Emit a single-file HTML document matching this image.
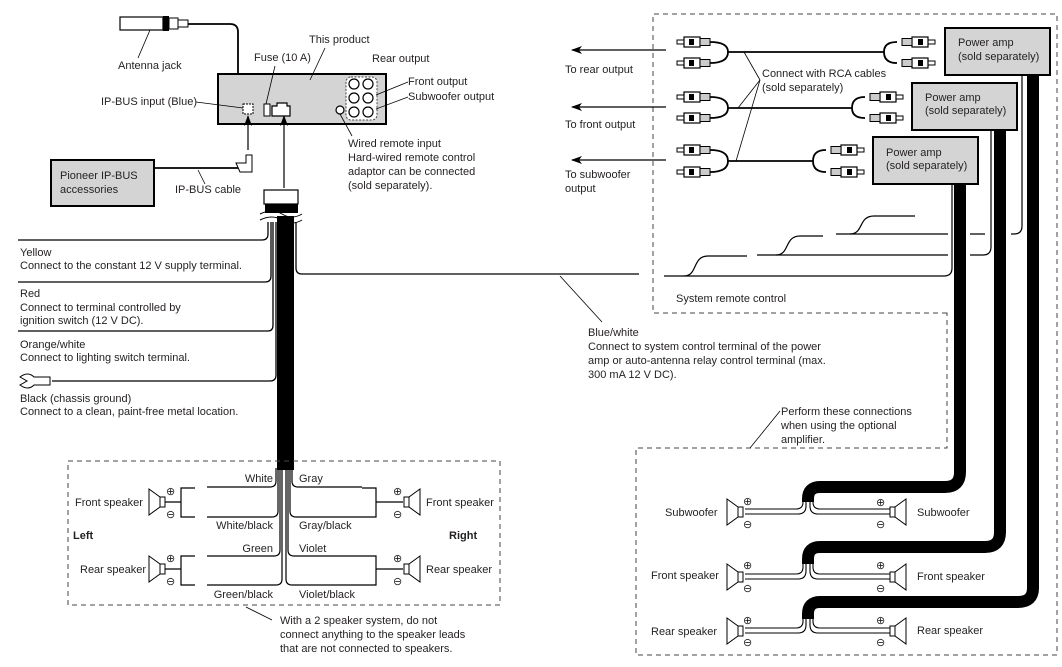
<!DOCTYPE html>
<html><head><meta charset="utf-8"><style>
html,body{margin:0;padding:0;background:#fff;}
svg{display:block;}
text{font-family:"Liberation Sans",sans-serif;font-size:11px;fill:#231f20;}
.b{font-weight:bold;}
</style></head><body>
<svg width="1062" height="667" viewBox="0 0 1062 667" xmlns="http://www.w3.org/2000/svg">
<defs>
<g id="plug">
 <rect x="0" y="-2" width="7" height="4" fill="#fff" stroke="#000" stroke-width="1"/>
 <rect x="7" y="-5" width="16" height="10" fill="#fff" stroke="#000" stroke-width="1.2"/>
 <rect x="12" y="-3" width="5" height="6" fill="#000"/>
 <rect x="23" y="-3.5" width="10" height="7" fill="#ccc" stroke="#000" stroke-width="1"/>
</g>
<g id="spk">
 <polygon points="0,0 11,8 11,18 0,26" fill="#fff" stroke="#000" stroke-width="1"/>
 <rect x="11" y="8" width="5" height="10" fill="#fff" stroke="#000" stroke-width="1"/>
</g>
<marker id="ah" markerWidth="12" markerHeight="10" refX="10" refY="4" orient="auto" markerUnits="userSpaceOnUse">
 <path d="M0,0 L11,4 L0,8 L3,4 Z" fill="#000"/>
</marker>
</defs>

<!-- Antenna -->
<rect x="120" y="17" width="43" height="13" fill="#fff" stroke="#000" stroke-width="1.2"/>
<rect x="163" y="16" width="6" height="15" fill="#000"/>
<rect x="169" y="18" width="9" height="11" fill="#fff" stroke="#000"/>
<rect x="178" y="20" width="10" height="7" fill="#fff" stroke="#000"/>
<path d="M188,24 H230 Q238,24 238,32 V76" fill="none" stroke="#000" stroke-width="1.8"/>
<line x1="150" y1="30" x2="138" y2="58" stroke="#000" stroke-width="0.8"/>
<text x="118" y="69">Antenna jack</text>

<!-- head unit -->
<rect x="218" y="74" width="168" height="50" fill="#d4d4d4" stroke="#000" stroke-width="2"/>
<rect x="243" y="104" width="10" height="10" fill="#fff" stroke="#000" stroke-dasharray="2,1"/>
<rect x="264" y="104" width="6" height="12" fill="#fff" stroke="#000"/>
<path d="M272,106 H277 V103 H287 V106 H290 V116 H272 Z" fill="#fff" stroke="#000" stroke-width="1.2"/>
<rect x="346" y="77" width="31" height="43" rx="5" fill="#fff" stroke="#444" stroke-dasharray="2,1.5"/>
<g fill="#fff" stroke="#000" stroke-width="1.2">
<circle cx="354" cy="84" r="5"/><circle cx="368" cy="84" r="5"/>
<circle cx="354" cy="98" r="5"/><circle cx="368" cy="98" r="5"/>
<circle cx="354" cy="112" r="5"/><circle cx="368" cy="112" r="5"/>
<circle cx="340" cy="110" r="4"/>
</g>
<text x="309" y="43">This product</text>
<line x1="325" y1="48" x2="310" y2="80" stroke="#000" stroke-width="0.8"/>
<text x="254" y="61">Fuse (10 A)</text>
<line x1="275" y1="66" x2="266" y2="104" stroke="#000" stroke-width="0.8"/>
<text x="372" y="62">Rear output</text>
<text x="408" y="85">Front output</text>
<line x1="408" y1="82" x2="376" y2="95" stroke="#000" stroke-width="0.8"/>
<text x="408" y="100">Subwoofer output</text>
<line x1="408" y1="97" x2="376" y2="109" stroke="#000" stroke-width="0.8"/>
<text x="101" y="105">IP-BUS input (Blue)</text>
<line x1="196" y1="102" x2="243" y2="108" stroke="#000" stroke-width="0.8"/>
<line x1="340" y1="114" x2="352" y2="136" stroke="#000" stroke-width="0.8"/>
<text x="348" y="147">Wired remote input</text>
<text x="348" y="161">Hard-wired remote control</text>
<text x="348" y="175">adaptor can be connected</text>
<text x="348" y="189">(sold separately).</text>

<!-- IP-BUS -->
<line x1="248" y1="150" x2="248" y2="116" stroke="#000" stroke-width="1.2" marker-end="url(#ah)"/>
<rect x="51" y="160" width="103" height="46" fill="#d4d4d4" stroke="#000" stroke-width="2"/>
<text x="60" y="179">Pioneer IP-BUS</text>
<text x="60" y="193">accessories</text>
<line x1="154" y1="168" x2="238" y2="168" stroke="#000" stroke-width="1.8"/>
<path d="M236,163 H246 V155 H252 V172 H240 Z" fill="#fff" stroke="#000"/>
<line x1="198" y1="170" x2="205" y2="184" stroke="#000" stroke-width="0.8"/>
<text x="175" y="193">IP-BUS cable</text>

<!-- harness -->
<line x1="284" y1="188" x2="284" y2="116" stroke="#000" stroke-width="1.2" marker-end="url(#ah)"/>
<rect x="264" y="190" width="34" height="14" fill="#fff" stroke="#000" stroke-width="1.2"/>
<rect x="265" y="204" width="33" height="9" fill="#000"/>
<rect x="277" y="216" width="17" height="254" fill="#000"/>
<path d="M260,214 Q272,208 282,214 T302,214" fill="none" stroke="#000" stroke-width="1"/>
<path d="M260,220 Q272,214 282,220 T302,220" fill="none" stroke="#000" stroke-width="1"/>
<g fill="none" stroke="#000" stroke-width="1.3">
<path d="M18,240 H262 Q268,240 268,234 V222"/>
<path d="M18,282 H265 Q271,282 271,276 V222"/>
<path d="M18,331 H268 Q273,331 273,325 V222"/>
<path d="M52,381 H270 Q276,381 276,375 V222"/>
<path d="M296,222 V268 Q296,274 302,274 H639"/>
</g>
<path d="M20,377 Q28,371 34,377 H50 V385 H34 Q28,391 20,385 L27,381 Z" fill="#fff" stroke="#000"/>
<text x="20" y="256">Yellow</text>
<text x="20" y="269">Connect to the constant 12 V supply terminal.</text>
<text x="20" y="297">Red</text>
<text x="20" y="311">Connect to terminal controlled by</text>
<text x="20" y="324">ignition switch (12 V DC).</text>
<text x="20" y="348">Orange/white</text>
<text x="20" y="361">Connect to lighting switch terminal.</text>
<text x="20" y="402">Black (chassis ground)</text>
<text x="20" y="415">Connect to a clean, paint-free metal location.</text>

<!-- Bottom left speaker box -->
<rect x="68" y="461" width="432" height="144" fill="none" stroke="#444" stroke-dasharray="5,4"/>
<g fill="none" stroke="#000" stroke-width="1.2">
<path d="M207,487 H270 Q276,487 276,481 V468"/>
<path d="M207,517 H272 Q278,517 278,511 V468"/>
<path d="M207,556 H274 Q280,556 280,550 V468"/>
<path d="M207,585 H276 Q282,585 282,579 V468"/>
<path d="M362,487 H298 Q292,487 292,481 V468"/>
<path d="M362,517 H296 Q290,517 290,511 V468"/>
<path d="M362,556 H294 Q288,556 288,550 V468"/>
<path d="M362,585 H292 Q286,585 286,579 V468"/>
<path d="M165,502 H181 M195,488 H181 V517 H195"/>
<path d="M165,569 H181 M195,556 H181 V585 H195"/>
<path d="M403,502 H376 M362,488 H376 V517 H362"/>
<path d="M403,569 H376 M362,556 H376 V585 H362"/>
</g>
<use href="#spk" x="149" y="489"/>
<use href="#spk" x="149" y="556"/>
<use href="#spk" transform="translate(420,489) scale(-1,1)"/>
<use href="#spk" transform="translate(420,556) scale(-1,1)"/>
<g font-size="10">
<text x="166" y="495">⊕</text><text x="166" y="518">⊖</text>
<text x="166" y="562">⊕</text><text x="166" y="585">⊖</text>
<text x="393" y="495">⊕</text><text x="393" y="518">⊖</text>
<text x="393" y="562">⊕</text><text x="393" y="585">⊖</text>
</g>
<text x="75" y="506">Front speaker</text>
<text x="80" y="573">Rear speaker</text>
<text x="73" y="539" class="b">Left</text>
<text x="449" y="539" class="b">Right</text>
<text x="426" y="506">Front speaker</text>
<text x="426" y="573">Rear speaker</text>
<text x="273" y="482" text-anchor="end">White</text>
<text x="273" y="529" text-anchor="end">White/black</text>
<text x="273" y="552" text-anchor="end">Green</text>
<text x="273" y="598" text-anchor="end">Green/black</text>
<text x="299" y="482">Gray</text>
<text x="299" y="529">Gray/black</text>
<text x="299" y="552">Violet</text>
<text x="299" y="598">Violet/black</text>
<line x1="246" y1="607" x2="272" y2="620" stroke="#000" stroke-width="0.8"/>
<text x="280" y="624">With a 2 speaker system, do not</text>
<text x="280" y="638">connect anything to the speaker leads</text>
<text x="280" y="652">that are not connected to speakers.</text>

<!-- Right dashed outline -->
<path d="M947,313 H653 V14 H1057 V655 H636 V448 H947 Z" fill="none" stroke="#444" stroke-dasharray="5,4"/>

<!-- arrows -->
<g stroke="#000" stroke-width="1.2">
<line x1="666" y1="50" x2="572" y2="50" marker-end="url(#ah)"/>
<line x1="666" y1="107" x2="572" y2="107" marker-end="url(#ah)"/>
<line x1="666" y1="160" x2="572" y2="160" marker-end="url(#ah)"/>
</g>
<text x="565" y="73">To rear output</text>
<text x="565" y="128">To front output</text>
<text x="565" y="178">To subwoofer</text>
<text x="565" y="192">output</text>

<!-- RCA -->
<g fill="none" stroke="#000" stroke-width="1.8">
<path d="M710,42 Q728,42 728,52 Q728,63 710,63 M728,52 H884 M897,42 Q884,42 884,52 Q884,63 897,63"/>
<path d="M710,97 Q728,97 728,108 Q728,118 710,118 M728,108 H852 M865,97 Q852,97 852,108 Q852,118 865,118"/>
<path d="M710,150 Q728,150 728,161 Q728,172 710,172 M728,161 H813 M826,150 Q813,150 813,161 Q813,172 826,172"/>
</g>
<use href="#plug" x="677" y="42"/><use href="#plug" x="677" y="63"/>
<use href="#plug" x="677" y="97"/><use href="#plug" x="677" y="118"/>
<use href="#plug" x="677" y="150"/><use href="#plug" x="677" y="172"/>
<use href="#plug" transform="translate(935,42) scale(-1,1)"/><use href="#plug" transform="translate(935,63) scale(-1,1)"/>
<use href="#plug" transform="translate(903,97) scale(-1,1)"/><use href="#plug" transform="translate(903,118) scale(-1,1)"/>
<use href="#plug" transform="translate(864,150) scale(-1,1)"/><use href="#plug" transform="translate(864,172) scale(-1,1)"/>
<g stroke="#000" stroke-width="0.8">
<line x1="760" y1="80" x2="744" y2="52"/><line x1="760" y1="80" x2="738" y2="108"/><line x1="760" y1="80" x2="736" y2="161"/>
</g>
<text x="762" y="77">Connect with RCA cables</text>
<text x="762" y="91">(sold separately)</text>

<!-- thin remote lines -->
<g fill="none" stroke="#000" stroke-width="1.2">
<path d="M1022,75 V226 Q1022,234 1014,234 H1011 M985,234 H970 M948,234 H836"/>
<path d="M850,234 C864,234 858,216 874,216 H915"/>
<path d="M991,130 V247 Q991,255 983,255 H970 M948,255 H757"/>
<path d="M776,255 C790,255 784,236 800,236 H823"/>
<path d="M952,184 V268 Q952,276 944,276 H664"/>
<path d="M684,276 C698,276 692,256 708,256 H747"/>
</g>
<line x1="560" y1="276" x2="602" y2="322" stroke="#000" stroke-width="0.8"/>
<text x="676" y="302">System remote control</text>
<text x="588" y="336">Blue/white</text>
<text x="588" y="350">Connect to system control terminal of the power</text>
<text x="588" y="364">amp or auto-antenna relay control terminal (max.</text>
<text x="588" y="378">300 mA 12 V DC).</text>

<!-- thick amp cables -->
<g fill="none" stroke="#000" stroke-width="12" stroke-linejoin="round">
<path d="M960,184 V472 Q960,487 945,487 H820 Q808,487 808,499 V502"/>
<path d="M1000,130 V532 Q1000,547 985,547 H820 Q808,547 808,559 V564"/>
<path d="M1033,75 V588 Q1033,602 1018,602 H820 Q808,602 808,614 V619"/>
</g>
<!-- amps -->
<g fill="#d4d4d4" stroke="#000" stroke-width="2">
<rect x="945" y="28" width="105" height="47"/>
<rect x="912" y="83" width="105" height="47"/>
<rect x="873" y="137" width="105" height="47"/>
</g>
<text x="958" y="46">Power amp</text><text x="958" y="60">(sold separately)</text>
<text x="925" y="101">Power amp</text><text x="925" y="114">(sold separately)</text>
<text x="886" y="156">Power amp</text><text x="886" y="169">(sold separately)</text>

<line x1="780" y1="411" x2="750" y2="448" stroke="#000" stroke-width="0.8"/>
<text x="781" y="415">Perform these connections</text>
<text x="781" y="429">when using the optional</text>
<text x="781" y="443">amplifier.</text>

<!-- amp speakers -->
<g fill="none" stroke="#000" stroke-width="1.1">
<path d="M745,509 H796 Q803,509 803,502 V500 M745,514 H798 Q806,514 806,506 V500"/>
<path d="M890,509 H820 Q813,509 813,502 V500 M890,514 H818 Q810,514 810,506 V500"/>
<path d="M745,574 H796 Q803,574 803,567 V562 M745,579 H798 Q806,579 806,571 V562"/>
<path d="M890,574 H820 Q813,574 813,567 V562 M890,579 H818 Q810,579 810,571 V562"/>
<path d="M745,628 H796 Q803,628 803,621 V617 M745,633 H798 Q806,633 806,625 V617"/>
<path d="M890,628 H820 Q813,628 813,621 V617 M890,633 H818 Q810,633 810,625 V617"/>
</g>
<use href="#spk" x="727" y="499"/>
<use href="#spk" x="727" y="564"/>
<use href="#spk" x="727" y="618"/>
<use href="#spk" transform="translate(906,499) scale(-1,1)"/>
<use href="#spk" transform="translate(906,564) scale(-1,1)"/>
<use href="#spk" transform="translate(906,618) scale(-1,1)"/>
<g font-size="10">
<text x="743" y="505">⊕</text><text x="743" y="528">⊖</text>
<text x="743" y="569">⊕</text><text x="743" y="592">⊖</text>
<text x="743" y="624">⊕</text><text x="743" y="646">⊖</text>
<text x="876" y="506">⊕</text><text x="876" y="528">⊖</text>
<text x="876" y="569">⊕</text><text x="876" y="592">⊖</text>
<text x="876" y="624">⊕</text><text x="876" y="646">⊖</text>
</g>
<text x="665" y="516">Subwoofer</text>
<text x="651" y="579">Front speaker</text>
<text x="651" y="635">Rear speaker</text>
<text x="917" y="516">Subwoofer</text>
<text x="917" y="580">Front speaker</text>
<text x="917" y="634">Rear speaker</text>
</svg>
</body></html>
